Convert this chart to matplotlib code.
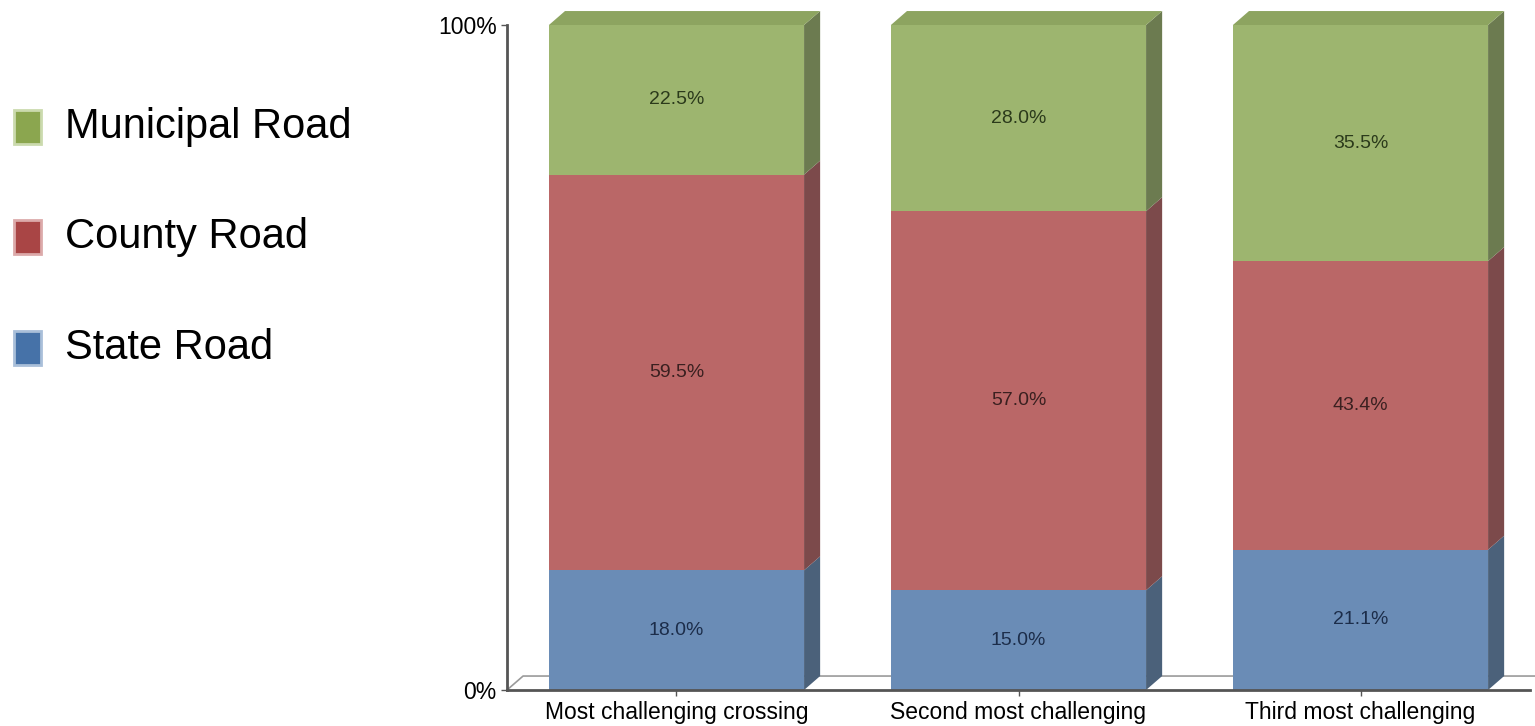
import numpy as np
import matplotlib

matplotlib.use("Agg")
import matplotlib.pyplot as plt
from matplotlib.patches import Polygon, Rectangle

plt.rcParams["font.family"] = ["Liberation Sans", "DejaVu Sans"]

categories = ["Most challenging crossing", "Second most challenging", "Third most challenging"]
series_names = ["State Road", "County Road", "Municipal Road"]
state_road = [18.0, 15.0, 21.1]
county_road = [59.5, 57.0, 43.4]
municipal_road = [22.5, 28.0, 35.5]

# front, side, top, label colour for each series
front_colors = ["#6a8cb6", "#ba6767", "#9db56f"]
side_colors = ["#4b617a", "#7c4a4b", "#6c7b50"]
top_colors = ["#5f7fa6", "#a75b5b", "#8da460"]
text_colors = ["#1c2d4a", "#3a2020", "#2b3a1b"]
legend_colors = ["#4672a8", "#a94545", "#8ba64f"]
legend_edges = ["#a9bfd9", "#dcaaaa", "#cbdaae"]

bar_width = 0.746
dx, dy = 0.047, 2.1

fig = plt.figure(figsize=(15.35, 7.26), dpi=100)
ax = fig.add_axes([507 / 1535, 36 / 726, 1023 / 1535, 665 / 726])
ax.set_xlim(-0.4956, 2.4956)
ax.set_ylim(0, 100)

# floor
x_lo, x_hi = ax.get_xlim()
ax.plot([x_lo, x_lo + dx, x_hi + 0.02], [0, dy, dy], color="#9a9a9a", lw=1.2,
        clip_on=False, zorder=1)

data = [state_road, county_road, municipal_road]
x = np.arange(len(categories))
bottoms = np.zeros(len(categories))
for s, values in enumerate(data):
    values = np.array(values)
    ax.bar(x, values, bar_width, bottom=bottoms, color=front_colors[s],
           zorder=2, clip_on=False)
    for i in range(len(categories)):
        x1 = x[i] + bar_width / 2
        b, t = bottoms[i], bottoms[i] + values[i]
        ax.add_patch(Polygon([(x1, b), (x1 + dx, b + dy), (x1 + dx, t + dy), (x1, t)],
                             closed=True, facecolor=side_colors[s], edgecolor="none",
                             zorder=2, clip_on=False))
        if s == len(data) - 1:
            x0 = x[i] - bar_width / 2
            ax.add_patch(Polygon([(x0, t), (x0 + dx, t + dy), (x1 + dx, t + dy), (x1, t)],
                                 closed=True, facecolor=top_colors[s], edgecolor="none",
                                 zorder=2, clip_on=False))
        ax.text(x[i], b + values[i] / 2, f"{values[i]:.1f}%", ha="center", va="center",
                fontsize=14, color=text_colors[s], zorder=3)
    bottoms = bottoms + values

for side in ["top", "right"]:
    ax.spines[side].set_visible(False)
for side in ["left", "bottom"]:
    ax.spines[side].set_color("#555555")
    ax.spines[side].set_linewidth(2)
    ax.spines[side].set_zorder(4)

ax.set_yticks([0, 100])
ax.set_yticklabels(["0%", "100%"], fontsize=16.5)
ax.set_xticks(x)
ax.set_xticklabels(categories, fontsize=16.5)
ax.tick_params(axis="both", colors="#555555", length=4, width=1, labelcolor="black")
ax.tick_params(axis="x", pad=4)

# legend on the left
legend_y = [127, 237, 348]
for s, yy in zip(range(len(series_names) - 1, -1, -1), legend_y):
    fy = 1 - yy / 726
    fig.add_artist(Rectangle((14 / 1535, fy - 17 / 726), 27 / 1535, 34 / 726,
                             transform=fig.transFigure, facecolor=legend_colors[s],
                             edgecolor=legend_edges[s], lw=2))
    fig.text(65 / 1535, fy, series_names[s], fontsize=30, va="center", ha="left")

fig.savefig("out.png", dpi=100)
